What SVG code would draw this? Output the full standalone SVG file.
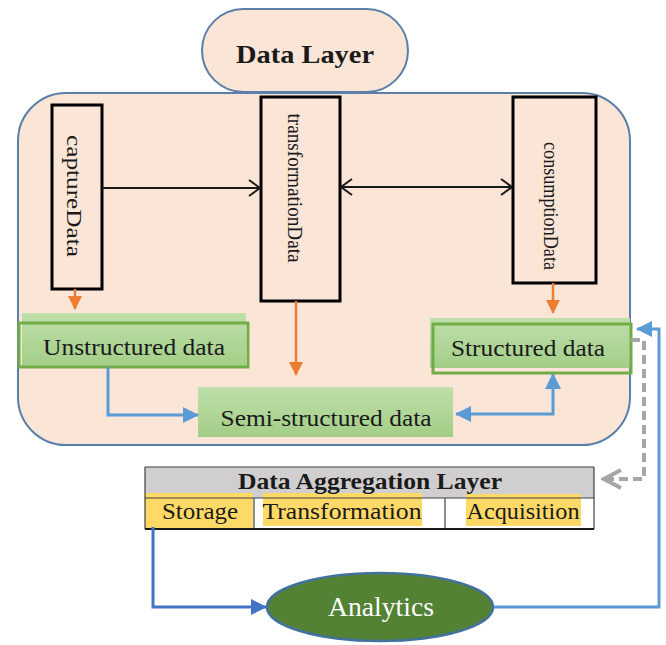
<svg xmlns="http://www.w3.org/2000/svg" width="666" height="645" viewBox="0 0 666 645">
  <defs>
    <style>
      .serif { font-family: "Liberation Serif", "Times New Roman", serif; fill: #1a1a1a; }
      .bold { font-weight: bold; }
      .vbox { fill: none; stroke: #000; stroke-width: 3; }
      .vtext { font-size: 21px; }
      .black { fill: none; stroke: #1a1a1a; stroke-width: 2; }
      .orange { fill: none; stroke: #ed7d31; stroke-width: 2.5; }
      .blue { fill: none; stroke: #5b9bd5; stroke-width: 3; }
      .blue2 { fill: none; stroke: #4472c4; stroke-width: 3; }
      .grey { fill: none; stroke: #a6a6a6; stroke-width: 4; stroke-dasharray: 9 5; }
      .label { font-size: 24px; }
      .hl { fill: #ffd966; }
      .cellline { stroke: #404040; stroke-width: 1.2; }
    </style>
    <linearGradient id="greenFill" x1="0" y1="0" x2="0" y2="1">
      <stop offset="0" stop-color="#bfdfaa"/>
      <stop offset="1" stop-color="#a3ce87"/>
    </linearGradient>
    <marker id="openV" viewBox="0 0 13 18" refX="12" refY="9" markerWidth="13" markerHeight="18" markerUnits="userSpaceOnUse" orient="auto-start-reverse">
      <path d="M1,1 L12,9 L1,17" fill="none" stroke="#1a1a1a" stroke-width="2"/>
    </marker>
    <marker id="orangeHead" viewBox="0 0 14 14" refX="13" refY="7" markerWidth="14" markerHeight="14" markerUnits="userSpaceOnUse" orient="auto">
      <path d="M0,0 L14,7 L0,14 Z" fill="#ed7d31"/>
    </marker>
    <marker id="blueHead" viewBox="0 0 16 16" refX="15" refY="8" markerWidth="16" markerHeight="16" markerUnits="userSpaceOnUse" orient="auto-start-reverse">
      <path d="M0,0 L16,8 L0,16 Z" fill="#5b9bd5"/>
    </marker>
    <marker id="blueHead2" viewBox="0 0 16 16" refX="15" refY="8" markerWidth="16" markerHeight="16" markerUnits="userSpaceOnUse" orient="auto">
      <path d="M0,0 L16,8 L0,16 Z" fill="#4472c4"/>
    </marker>
    <marker id="greyV" viewBox="0 0 22 22" refX="19" refY="11" markerWidth="22" markerHeight="22" markerUnits="userSpaceOnUse" orient="auto">
      <path d="M2,2 L19,11 L2,20" fill="none" stroke="#a6a6a6" stroke-width="4"/>
    </marker>
  </defs>

  <rect width="666" height="645" fill="#ffffff"/>

  <!-- Data layer container -->
  <g id="container">
    <rect x="18" y="93" width="612" height="352" rx="48" ry="48" fill="#fbe5d6" stroke="#5a7fa8" stroke-width="2"/>
  </g>

  <g id="data-layer-title">
    <rect x="202" y="9" width="206" height="83" rx="41.5" ry="41.5" fill="#fbe5d6" stroke="#5a7fa8" stroke-width="2"/>
    <text class="serif bold" x="305" y="63" font-size="26" text-anchor="middle" textLength="138" lengthAdjust="spacingAndGlyphs">Data Layer</text>
  </g>

  <g id="captureData">
    <rect class="vbox" x="52" y="105" width="50" height="184"/>
    <text class="serif vtext" transform="translate(67,196) rotate(90)" text-anchor="middle" textLength="122" lengthAdjust="spacingAndGlyphs">captureData</text>
  </g>

  <g id="transformationData">
    <rect class="vbox" x="261" y="97" width="79" height="204"/>
    <text class="serif vtext" transform="translate(288,188) rotate(90)" text-anchor="middle" textLength="149" lengthAdjust="spacingAndGlyphs">transformationData</text>
  </g>

  <g id="consumptionData">
    <rect class="vbox" x="513" y="97" width="83" height="186"/>
    <text class="serif vtext" transform="translate(544,206) rotate(90)" text-anchor="middle" textLength="128" lengthAdjust="spacingAndGlyphs">consumptionData</text>
  </g>

  <g id="unstructured">
    <rect x="22" y="313" width="224" height="54" fill="url(#greenFill)"/>
    <rect x="19" y="323" width="229" height="44" fill="none" stroke="#70ad47" stroke-width="3"/>
    <text class="serif label" x="134" y="355" text-anchor="middle" textLength="182" lengthAdjust="spacingAndGlyphs">Unstructured data</text>
  </g>

  <g id="semi-structured">
    <rect x="198" y="387" width="255" height="50" fill="url(#greenFill)"/>
    <text class="serif label" x="326" y="426" text-anchor="middle" textLength="211" lengthAdjust="spacingAndGlyphs">Semi-structured data</text>
  </g>

  <g id="structured">
    <rect x="430" y="318" width="200" height="50" fill="url(#greenFill)"/>
    <rect x="433" y="324" width="198" height="49" fill="none" stroke="#70ad47" stroke-width="3"/>
    <text class="serif label" x="528" y="356" text-anchor="middle" textLength="154" lengthAdjust="spacingAndGlyphs">Structured data</text>
  </g>

  <g id="aggregation-layer">
    <rect x="145" y="467" width="449" height="31" fill="#d0cece"/>
    <rect x="145" y="498" width="449" height="31" fill="#ffffff"/>
    <rect class="hl" x="145" y="493" width="108" height="35"/>
    <rect class="hl" x="263" y="493" width="159" height="33"/>
    <rect class="hl" x="466" y="494" width="115" height="32"/>
    <line class="cellline" x1="145" y1="467" x2="594" y2="467"/>
    <line class="cellline" x1="145" y1="498" x2="594" y2="498"/>
    <line class="cellline" x1="145" y1="467" x2="145" y2="529"/>
    <line class="cellline" x1="594" y1="467" x2="594" y2="529"/>
    <line class="cellline" x1="254" y1="498" x2="254" y2="529"/>
    <line class="cellline" x1="445" y1="498" x2="445" y2="529"/>
    <line x1="145" y1="529" x2="594" y2="529" stroke="#1a1a1a" stroke-width="2"/>
    <text class="serif bold" x="370" y="489" font-size="23" text-anchor="middle" textLength="264" lengthAdjust="spacingAndGlyphs">Data Aggregation Layer</text>
    <text class="serif label" x="200" y="519" text-anchor="middle" textLength="76" lengthAdjust="spacingAndGlyphs">Storage</text>
    <text class="serif label" x="342" y="519" text-anchor="middle" textLength="159" lengthAdjust="spacingAndGlyphs">Transformation</text>
    <text class="serif label" x="523" y="519" text-anchor="middle" textLength="113" lengthAdjust="spacingAndGlyphs">Acquisition</text>
  </g>

  <g id="analytics">
    <ellipse cx="380" cy="607" rx="113" ry="34" fill="#548235" stroke="#41719c" stroke-width="2.5"/>
    <text class="serif" x="381" y="616" font-size="27" style="fill:#ffffff" text-anchor="middle" textLength="106" lengthAdjust="spacingAndGlyphs">Analytics</text>
  </g>

  <g id="connectors">
    <!-- flow between the three data stages -->
    <line class="black" x1="102" y1="188" x2="260" y2="188" marker-end="url(#openV)"/>
    <line class="black" x1="341" y1="187" x2="512" y2="187" marker-start="url(#openV)" marker-end="url(#openV)"/>

    <!-- stages down to data kinds -->
    <line class="orange" x1="75" y1="289" x2="75" y2="309" marker-end="url(#orangeHead)"/>
    <line class="orange" x1="296" y1="301" x2="296" y2="375" marker-end="url(#orangeHead)"/>
    <line class="orange" x1="553" y1="283" x2="553" y2="313" marker-end="url(#orangeHead)"/>

    <!-- data kinds -->
    <path class="blue" d="M108,367 V415 H198" marker-end="url(#blueHead)"/>
    <path class="blue" d="M456,414 H553 V374" marker-start="url(#blueHead)" marker-end="url(#blueHead)"/>

    <!-- structured data to aggregation layer -->
    <path class="grey" d="M631,340 H644 V479 H604" marker-end="url(#greyV)"/>

    <!-- storage to analytics and back -->
    <path class="blue2" d="M153,527 V607 H266" marker-end="url(#blueHead2)"/>
    <path class="blue" d="M494,607 H659 V329 H637" marker-end="url(#blueHead)"/>
  </g>
</svg>
